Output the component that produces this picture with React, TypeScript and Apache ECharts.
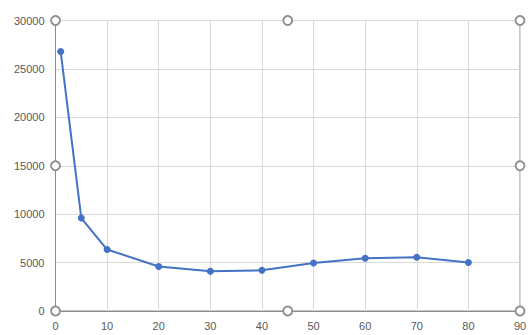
import React, { useEffect, useRef } from "react";
import * as echarts from "echarts";

const xValues = [1, 5, 10, 20, 30, 40, 50, 60, 70, 80];
const yValues = [26800, 9600, 6350, 4600, 4100, 4200, 4950, 5450, 5550, 5000];
const handlePoints: [number, number][] = [
  [0, 0], [45, 0], [90, 0],
  [0, 15000], [90, 15000],
  [0, 30000], [45, 30000], [90, 30000],
];

export default function App() {
  const ref = useRef<HTMLDivElement>(null);
  useEffect(() => {
    if (!ref.current) return;
    const chart = echarts.init(ref.current, undefined, { renderer: "svg" });
    const labelStyle = { color: "#595959", fontSize: 11, fontFamily: "Liberation Sans" };
    chart.setOption({
      animation: false,
      grid: { left: 55.5, right: 12, top: 20.5, bottom: 24, show: true, borderColor: "#8c8c8c", borderWidth: 1, containLabel: false },
      xAxis: {
        type: "value", min: 0, max: 90, interval: 10,
        axisLine: { show: true, lineStyle: { color: "#8c8c8c", width: 1 } },
        axisTick: { show: false },
        axisLabel: { ...labelStyle, margin: 9, formatter: (v: number) => String(v) },
        splitLine: { show: true, lineStyle: { color: "#d9d9d9", width: 1 } },
      },
      yAxis: {
        type: "value", min: 0, max: 30000, interval: 5000,
        axisLine: { show: true, lineStyle: { color: "#8c8c8c", width: 1 } },
        axisTick: { show: false },
        axisLabel: { ...labelStyle, margin: 11, formatter: (v: number) => String(v) },
        splitLine: { show: true, lineStyle: { color: "#d9d9d9", width: 1 } },
      },
      series: [{
        type: "line",
        data: xValues.map((x, i) => [x, yValues[i]]),
        symbol: "circle",
        symbolSize: 7,
        itemStyle: { color: "#4472C4" },
        lineStyle: { color: "#4472C4", width: 2 },
        z: 3,
      }],
    });
    const graphics = handlePoints.map(([x, y]) => {
      const p = chart.convertToPixel({ gridIndex: 0 }, [x, y]) as number[];
      return {
        type: "circle",
        shape: { cx: p[0], cy: p[1], r: 4.5 },
        style: { fill: "#ffffff", stroke: "#8c8c8c", lineWidth: 1.8 },
        z: 100,
      };
    });
    chart.setOption({ graphic: graphics });
    return () => chart.dispose();
  }, []);
  return <div ref={ref} style={{ width: 532, height: 335, position: "absolute", left: 0, top: 0 }} />;
}
